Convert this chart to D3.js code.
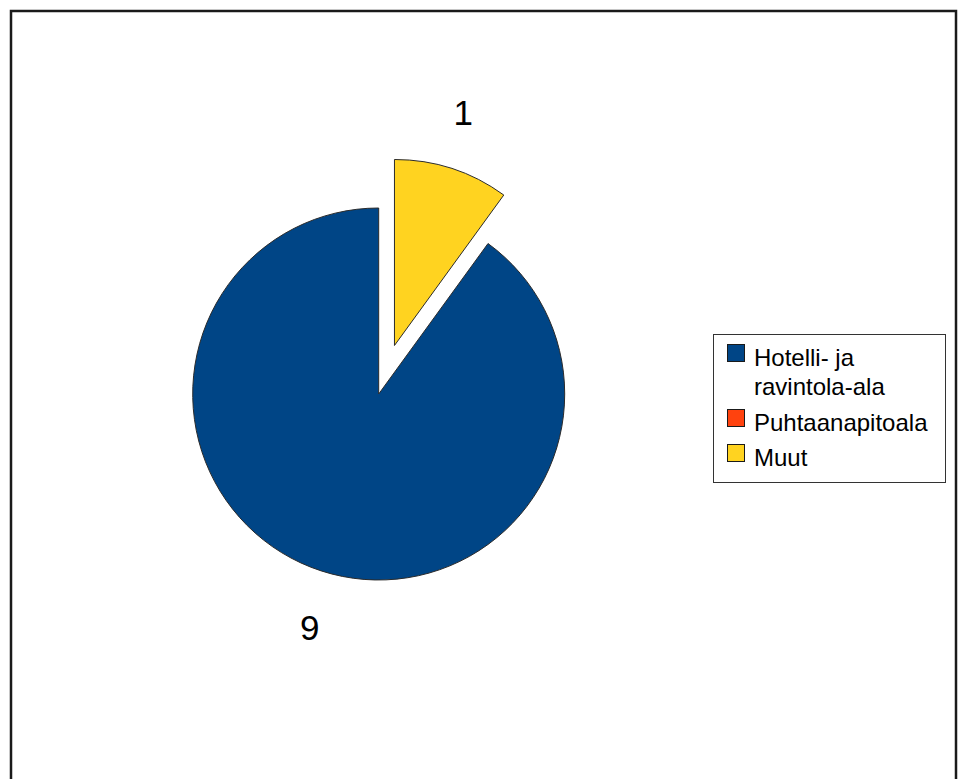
<!DOCTYPE html>
<html>
<head>
<meta charset="utf-8">
<script src="https://cdn.jsdelivr.net/npm/d3@7"></script>
<style>
  html, body { margin: 0; padding: 0; background: #ffffff; }
  svg { display: block; }
  text { font-family: "Liberation Sans", Arial, sans-serif; }
</style>
</head>
<body>
<svg id="chart" width="958" height="779"></svg>
<script>
// Data
const categories = ["Hotelli- ja ravintola-ala", "Puhtaanapitoala", "Muut"];
const legendLines = [["Hotelli- ja", "ravintola-ala"], ["Puhtaanapitoala"], ["Muut"]];
const values = [9, 0, 1];
const colors = ["#004586", "#ff420e", "#ffd320"];
const exploded = [false, false, true];

const svg = d3.select("#chart");

// Outer frame (runs past the bottom edge of the page)
svg.append("rect")
  .attr("x", 11).attr("y", 11)
  .attr("width", 945).attr("height", 800)
  .attr("fill", "#ffffff")
  .attr("stroke", "#1a1a1a")
  .attr("stroke-width", 2.5);

// Pie geometry
const cx = 378.7, cy = 394, radius = 186, explodeDist = 51, labelRadius = 245;
const labelSpreadX = 0.91;   // labels sit on a slightly narrower ellipse

const pie = d3.pie()
  .sort(null)
  .value(d => d.value)
  .startAngle(0)
  .endAngle(-2 * Math.PI);   // slices run counter-clockwise from 12 o'clock

const data = categories.map((c, i) => ({ name: c, value: values[i], color: colors[i], explode: exploded[i] }));
const arcs = pie(data);

const arc = d3.arc().innerRadius(0).outerRadius(radius);
const labelArc = d3.arc().innerRadius(labelRadius).outerRadius(labelRadius);

const g = svg.append("g").attr("transform", `translate(${cx},${cy})`);

function offsetOf(d) {
  if (!d.data.explode) return [0, 0];
  const mid = (d.startAngle + d.endAngle) / 2;
  return [Math.sin(mid) * explodeDist, -Math.cos(mid) * explodeDist];
}

const slices = g.selectAll("g.slice")
  .data(arcs.filter(d => d.value > 0))
  .enter().append("g")
  .attr("class", "slice")
  .attr("transform", d => { const o = offsetOf(d); return `translate(${o[0]},${o[1]})`; });

slices.append("path")
  .attr("d", arc)
  .attr("fill", d => d.data.color)
  .attr("stroke", "#2b2b2b")
  .attr("stroke-width", 1)
  .attr("stroke-linejoin", "round");

slices.append("text")
  .attr("transform", d => { const p = labelArc.centroid(d); return `translate(${p[0] * labelSpreadX},${p[1]})`; })
  .attr("text-anchor", "middle")
  .attr("dy", "0.36em")
  .attr("font-size", 35)
  .attr("fill", "#000000")
  .text(d => d.data.value);

// Legend
const legend = svg.append("g").attr("transform", "translate(713.5,334.5)");
legend.append("rect")
  .attr("width", 232).attr("height", 148)
  .attr("fill", "#ffffff")
  .attr("stroke", "#333333")
  .attr("stroke-width", 1);

const itemY = [10, 75, 110];   // top of each colour key
legendLines.forEach((lines, i) => {
  const item = legend.append("g").attr("transform", `translate(0,${itemY[i]})`);
  item.append("rect")
    .attr("x", 14).attr("y", 0)
    .attr("width", 17).attr("height", 17)
    .attr("fill", colors[i])
    .attr("stroke", "#1a1a1a")
    .attr("stroke-width", 1);
  lines.forEach((ln, j) => {
    item.append("text")
      .attr("x", 40.5)
      .attr("y", 21.5 + j * 28.5)
      .attr("font-size", 24)
      .attr("fill", "#000000")
      .text(ln);
  });
});
</script>
</body>
</html>
